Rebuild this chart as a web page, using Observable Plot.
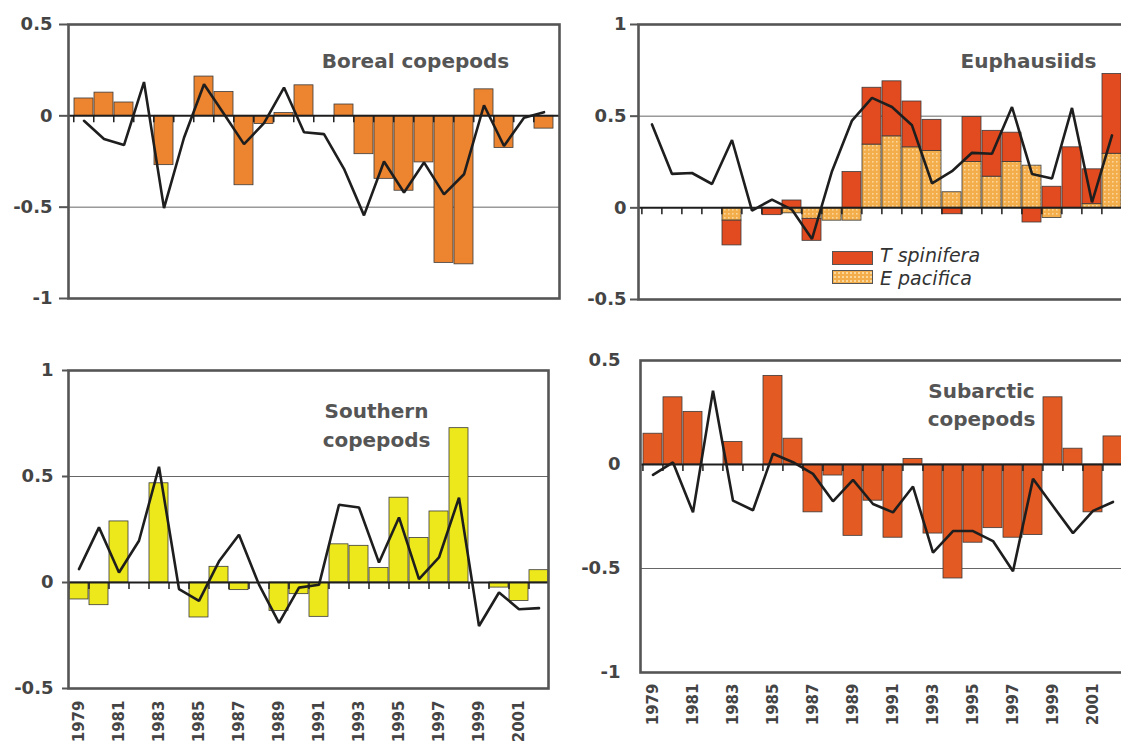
<!DOCTYPE html>
<html><head><meta charset="utf-8">
<script src="https://cdn.jsdelivr.net/npm/d3@7"></script>
<script src="https://cdn.jsdelivr.net/npm/@observablehq/plot@0.6"></script>
<style>
html,body{margin:0;padding:0;background:#fff;width:1121px;height:743px;overflow:hidden;position:relative;}
.panel{position:absolute;}
.panel svg{max-width:none !important;background:transparent !important;overflow:visible;}
.lg{position:absolute;font-family:"DejaVu Sans";font-style:italic;font-size:19px;color:#333;line-height:19px;white-space:nowrap;}
.sw{position:absolute;border:1px solid #555;box-sizing:border-box;}
</style></head><body>
<svg width="0" height="0" style="position:absolute;left:0;top:0">
<defs>
<pattern id="pacPat" width="4" height="4" patternUnits="userSpaceOnUse">
<rect width="4" height="4" fill="#F3AD4B"></rect>
<rect x="1" y="1" width="1.6" height="1.6" fill="#FBD79C"></rect>
</pattern>
</defs>
</svg>
<div id="tl" class="panel" style="left:0px;top:0px"></div>
<div id="tr" class="panel" style="left:575px;top:0px"></div>
<div id="bl" class="panel" style="left:0px;top:340px"></div>
<div id="br" class="panel" style="left:575px;top:330px"></div>
<div class="sw" style="left:832px;top:251px;width:41px;height:14px;background:#E24A1F"></div>
<div class="sw" style="left:832px;top:270px;width:41px;height:14px;background-color:#F3AD4B;background-image:radial-gradient(#FBD79C 1px, transparent 1.3px);background-size:4px 4px"></div>
<div class="lg" style="left:880px;top:246px">T spinifera</div>
<div class="lg" style="left:880px;top:269px">E pacifica</div>
<script>
const years = [1979,1980,1981,1982,1983,1984,1985,1986,1987,1988,1989,1990,1991,1992,1993,1994,1995,1996,1997,1998,1999,2000,2001,2002];
const labelYears = [1979,1981,1983,1985,1987,1989,1991,1993,1995,1997,1999,2001];

// Boreal copepods
const borealBars = [0.095,0.127,0.073,0,-0.27,0,0.215,0.13,-0.38,-0.045,0.015,0.167,0,0.062,-0.21,-0.345,-0.41,-0.255,-0.805,-0.813,0.145,-0.176,0,-0.07];
const borealLine = [-0.027,-0.127,-0.16,0.185,-0.505,-0.12,0.173,0.01,-0.155,-0.04,0.155,-0.09,-0.1,-0.29,-0.545,-0.25,-0.42,-0.255,-0.43,-0.32,0.058,-0.165,-0.01,0.02];

// Euphausiids
const species = ["E pacifica","T spinifera"];
const pacificaBars = [0,0,0,0,-0.07,0,0,-0.03,-0.06,-0.07,-0.07,0.345,0.39,0.33,0.31,0.085,0.25,0.17,0.25,0.23,-0.055,0,0.02,0.295];
const spiniferaBars = [0,0,0,0,-0.135,0,-0.04,0.04,-0.12,0,0.195,0.31,0.3,0.25,0.17,-0.035,0.245,0.25,0.16,-0.08,0.115,0.33,0.19,0.435];
const euphLine = [0.455,0.185,0.19,0.13,0.37,-0.015,0.045,-0.01,-0.17,0.2,0.476,0.6,0.55,0.45,0.134,0.2,0.3,0.295,0.55,0.185,0.16,0.545,0.03,0.395];

// Southern copepods
const southernBars = [-0.08,-0.107,0.288,0,0.468,0,-0.165,0.074,-0.036,0,-0.134,-0.055,-0.162,0.18,0.173,0.068,0.4,0.21,0.335,0.728,0,-0.024,-0.087,0.058];
const southernLine = [0.063,0.26,0.047,0.197,0.546,-0.031,-0.087,0.1,0.225,-0.01,-0.19,-0.024,-0.011,0.367,0.354,0.094,0.307,0.016,0.118,0.4,-0.205,-0.047,-0.126,-0.121];

// Subarctic copepods
const subarcticBars = [0.148,0.323,0.253,0,0.108,0,0.426,0.124,-0.23,-0.053,-0.343,-0.174,-0.352,0.027,-0.332,-0.548,-0.376,-0.306,-0.352,-0.339,0.323,0.076,-0.23,0.135];
const subarcticLine = [-0.05,0.01,-0.23,0.355,-0.174,-0.22,0.052,0.011,-0.045,-0.177,-0.074,-0.19,-0.23,-0.106,-0.424,-0.32,-0.32,-0.368,-0.513,-0.069,-0.2,-0.33,-0.223,-0.18];

function series(vals) { return years.map((year, i) => ({year, value: vals[i]})); }

function makePanel(cfg) {
  const [fl, fr, ft, fb] = cfg.frame;
  const marginLeft = fl - cfg.left, marginTop = ft - cfg.top;
  const marginRight = 4, marginBottom = cfg.xLabels ? 70 : 6;
  const width = fr - cfg.left + marginRight;
  const height = fb - cfg.top + marginBottom;
  const step = (fr - fl) / years.length;
  const marks = [
    Plot.ruleY(cfg.grid, {stroke: "#666", strokeWidth: 1}),
    cfg.barMark,
    Plot.ruleY([0], {stroke: "#1e1e1e", strokeWidth: 2}),
    Plot.ruleX(years, {x: d => d, y1: 0, y2: 0, insetBottom: -7, dx: -step / 2, stroke: "#1e1e1e", strokeWidth: 1.5}),
    Plot.line(series(cfg.line), {x: "year", y: "value", stroke: "#1e1e1e", strokeWidth: 2.6, strokeLinejoin: "miter"}),
    Plot.frame({stroke: "#555", strokeWidth: 2.6}),
    Plot.axisY({ticks: cfg.yTicks, label: null, tickSize: cfg.tickSize, tickPadding: cfg.tickPadding, fontSize: 18, tickFormat: d => String(d), stroke: "#555", strokeWidth: 2}),
    Plot.text([cfg.title], {frameAnchor: "top-left", dx: cfg.titleDx, dy: cfg.titleDy, text: d => d, textAnchor: "middle", lineAnchor: "top", fontSize: 20, fontWeight: "bold", fill: "#555", lineHeight: cfg.lineHeight || 1})
  ];
  if (cfg.xLabels) marks.push(Plot.axisX({ticks: labelYears, label: null, tickSize: 0, tickPadding: cfg.xPad, tickRotate: -90, fontSize: 15, tickFormat: d => String(d)}));
  const chart = Plot.plot({
    width, height, marginLeft, marginTop, marginRight, marginBottom,
    style: {fontFamily: "DejaVu Sans", fontWeight: "bold", color: "#444", background: "transparent", overflow: "visible"},
    x: {type: "band", domain: years, paddingInner: 0.07, paddingOuter: 0.035, axis: null, label: null},
    y: {domain: cfg.yDomain, axis: null, label: null},
    color: cfg.color,
    marks
  });
  document.getElementById(cfg.id).appendChild(chart);
}

const barStyle = {stroke: "#3a3a3a", strokeWidth: 0.8};

makePanel({
  id: "tl", left: 0, top: 0, frame: [68, 559, 24, 298], yDomain: [-1, 0.5], yTicks: [0.5, 0, -0.5, -1], grid: [-0.5],
  tickSize: 9, tickPadding: 7,
  barMark: Plot.barY(series(borealBars).filter(d => d.value !== 0), {x: "year", y: "value", fill: "#EC8430", ...barStyle}),
  line: borealLine, title: "Boreal copepods", titleDx: 347, titleDy: 29
});

const euphRows = [
  ...years.map((year, i) => ({year, species: species[0], value: pacificaBars[i]})),
  ...years.map((year, i) => ({year, species: species[1], value: spiniferaBars[i]}))
].filter(d => d.value !== 0);

makePanel({
  id: "tr", left: 575, top: 0, frame: [638, 1124, 24, 299], yDomain: [-0.5, 1], yTicks: [1, 0.5, 0, -0.5], grid: [0.5],
  tickSize: 8, tickPadding: 4,
  color: {type: "ordinal", domain: species, range: ["url(#pacPat)", "#E24A1F"]},
  barMark: Plot.barY(euphRows, {x: "year", y: "value", fill: "species", ...barStyle}),
  line: euphLine, title: "Euphausiids", titleDx: 390, titleDy: 29
});

makePanel({
  id: "bl", left: 0, top: 340, frame: [68, 548, 370, 688], yDomain: [-0.5, 1], yTicks: [1, 0.5, 0, -0.5], grid: [0.5],
  tickSize: 6, tickPadding: 9, xLabels: true, xPad: 12,
  barMark: Plot.barY(series(southernBars).filter(d => d.value !== 0), {x: "year", y: "value", fill: "#EDE81C", ...barStyle}),
  line: southernLine, title: "Southern\ncopepods", titleDx: 308, titleDy: 27, lineHeight: 1.45
});

makePanel({
  id: "br", left: 575, top: 330, frame: [640, 1124, 360, 672], yDomain: [-1, 0.5], yTicks: [0.5, 0, -0.5, -1], grid: [-0.5],
  tickSize: 0, tickPadding: 20, xLabels: true, xPad: 11,
  barMark: Plot.barY(series(subarcticBars).filter(d => d.value !== 0), {x: "year", y: "value", fill: "#E35A22", ...barStyle}),
  line: subarcticLine, title: "Subarctic\ncopepods", titleDx: 341, titleDy: 18, lineHeight: 1.4
});
</script>
</body></html>
